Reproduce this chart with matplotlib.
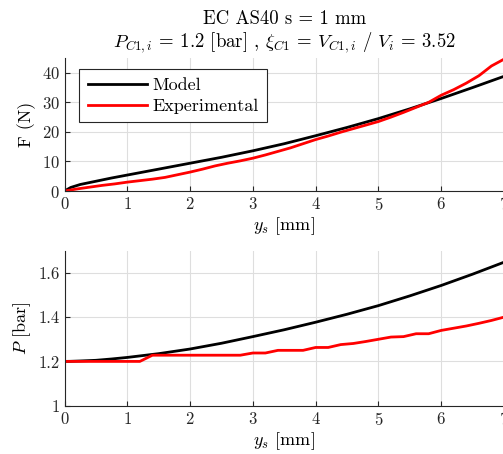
import matplotlib
matplotlib.use("Agg")
import matplotlib.pyplot as plt
import numpy as np

plt.rcParams['font.family'] = ['cmr10', 'DejaVu Serif']
plt.rcParams['mathtext.fontset'] = 'cm'
plt.rcParams['axes.formatter.use_mathtext'] = True
plt.rcParams['axes.unicode_minus'] = False

# displacement grids (mm)
ys_model = [0, 0.1, 0.25, 0.5, 0.75, 1.0, 1.5, 2.0, 2.5, 3.0, 3.5, 4.0, 4.5, 5.0, 5.5, 6.0, 6.5, 7.0]
ys_exp = [0, 0.2, 0.4, 0.6, 0.8, 1.0, 1.2, 1.4, 1.6, 1.8, 2.0, 2.2, 2.4, 2.6, 2.8, 3.0, 3.2, 3.4,
          3.6, 3.8, 4.0, 4.2, 4.4, 4.6, 4.8, 5.0, 5.2, 5.4, 5.6, 5.8, 6.0, 6.2, 6.4, 6.6, 6.8, 7.0]

# force (N)
F_model = [0, 1.2, 2.2, 3.3, 4.4, 5.4, 7.4, 9.4, 11.4, 13.6, 16.0, 18.7, 21.5, 24.5, 27.8, 31.3, 35.0, 38.8]
F_exp = [0, 0.7, 1.3, 1.9, 2.4, 3.0, 3.5, 4.0, 4.6, 5.5, 6.4, 7.4, 8.5, 9.4, 10.2, 11.1, 12.2, 13.4,
         14.6, 16.0, 17.4, 18.6, 19.9, 21.1, 22.3, 23.5, 25.0, 26.6, 28.3, 30.0, 32.4, 34.3, 36.5, 39.0, 42.3, 44.6]

# chamber pressure (bar)
P_model = [1.2, 1.2005, 1.202, 1.205, 1.211, 1.218, 1.235, 1.256, 1.282, 1.312, 1.343, 1.377, 1.413,
           1.452, 1.496, 1.543, 1.594, 1.648]
P_exp = [1.2, 1.2, 1.2, 1.2, 1.2, 1.2, 1.2, 1.228, 1.228, 1.228, 1.228, 1.228, 1.228, 1.228, 1.228,
         1.238, 1.238, 1.25, 1.25, 1.25, 1.263, 1.263, 1.276, 1.281, 1.29, 1.30, 1.31, 1.312, 1.325,
         1.325, 1.34, 1.35, 1.36, 1.372, 1.385, 1.40]

W, H = 503, 454
fig = plt.figure(figsize=(W / 100, H / 100), dpi=100)


def make_axes(left, top, right, bottom):
    return fig.add_axes([left / W, 1 - bottom / H, (right - left) / W, (bottom - top) / H])


def style(ax):
    ax.spines['top'].set_visible(False)
    ax.spines['right'].set_visible(False)
    for s in ('left', 'bottom'):
        ax.spines[s].set_color('0.15')
        ax.spines[s].set_linewidth(0.8)
    ax.tick_params(direction='in', length=3.5, width=0.8, colors='0.15', labelsize=12)
    ax.grid(True, color='0.87', linewidth=0.8)
    ax.set_axisbelow(True)


ax1 = make_axes(64.5, 58, 504, 191)
ax1.plot(ys_model, F_model, color='black', lw=2, label='Model')
ax1.plot(ys_exp, F_exp, color='red', lw=2, label='Experimental')
ax1.set_xlim(0, 7)
ax1.set_ylim(0, 45)
ax1.set_xticks(range(8))
ax1.set_yticks([0, 10, 20, 30, 40])
style(ax1)
ax1.set_xlabel(r'$y_s$ [mm]', fontsize=13, labelpad=2)
ax1.set_ylabel('F (N)', fontsize=13, labelpad=4)
ax1.set_title('EC AS40 s = 1 mm\n'
              r'$P_{C1,i}$ = 1.2 [bar] , $\xi_{C1}$ = $V_{C1,i}$ / $V_i$ = 3.52',
              fontsize=13.5, pad=8, linespacing=1.15)
leg = ax1.legend(loc='upper left', bbox_to_anchor=(0.034, 0.915), fontsize=13, handlelength=3.3,
                 handletextpad=0.3, borderpad=0.45, labelspacing=0.3, fancybox=False,
                 framealpha=1, edgecolor='0.15', borderaxespad=0.0)
leg.get_frame().set_linewidth(0.8)

ax2 = make_axes(64.5, 250.7, 504, 405.7)
ax2.plot(ys_model, P_model, color='black', lw=2)
ax2.plot(ys_exp, P_exp, color='red', lw=2)
ax2.set_xlim(0, 7)
ax2.set_ylim(1, 1.7)
ax2.set_xticks(range(8))
ax2.set_yticks([1, 1.2, 1.4, 1.6])
ax2.set_yticklabels(['1', '1.2', '1.4', '1.6'])
style(ax2)
ax2.set_xlabel(r'$y_s$ [mm]', fontsize=13, labelpad=2)
ax2.set_ylabel(r'$P$ [bar]', fontsize=13, labelpad=4)

fig.savefig('out.png', dpi=100)
